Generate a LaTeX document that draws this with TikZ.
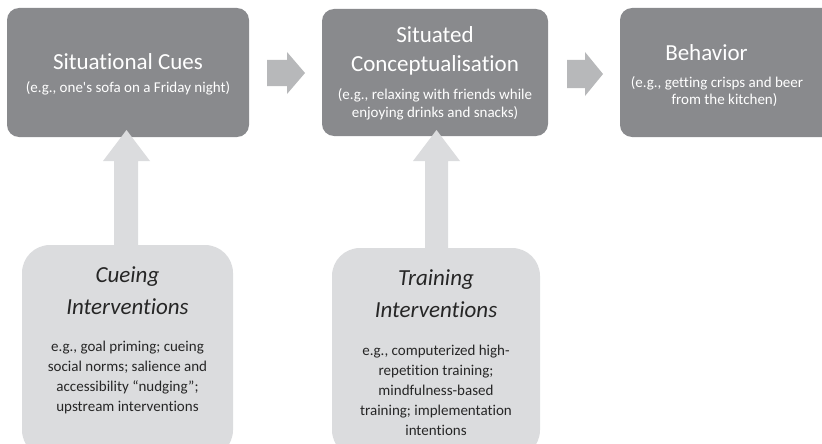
\documentclass[tikz,border=0pt]{standalone}
\usepackage{fontspec}
\setmainfont{Carlito}[Ligatures={NoCommon}]
\begin{document}
\begin{tikzpicture}[x=1pt,y=-1pt,
  darkbox/.style={fill=boxdark, rounded corners=12pt, draw=none},
  lightbox/.style={fill=boxlight, rounded corners=28pt, draw=none},
  hdark/.style={text=white, font=\fontsize{23}{29}\selectfont, align=center, inner sep=0pt},
  sdark/.style={text=white, font=\fontsize{15}{18}\selectfont, align=center, inner sep=0pt},
  hlight/.style={text=txtdark, font=\itshape\fontsize{23}{32}\selectfont, align=center, inner sep=0pt},
  slight/.style={text=txtdark, font=\fontsize{15}{20}\selectfont, align=center, inner sep=0pt},
  rarrow/.style={fill=arrowmid},
  uarrow/.style={fill=boxlight}]
\definecolor{boxdark}{HTML}{898A8D}
\definecolor{boxlight}{HTML}{DBDCDE}
\definecolor{arrowmid}{HTML}{B7B8BA}
\definecolor{txtdark}{HTML}{262626}
\useasboundingbox (0,0) rectangle (822,444);
% top boxes
\path[darkbox] (7,8) rectangle (249,137);
\path[darkbox] (322,9) rectangle (548,136);
\path[darkbox] (620,8) rectangle (850,137);
\node[hdark] (t1) at (128,62) {Situational Cues};
\node[sdark] (s1) at (128,88) {(e.g., one\textquotesingle s sofa on a Friday night)};
\node[hdark] (t2) at (435,50.5) {Situated\\Conceptualisation};
\node[sdark] (s2) at (435,104) {(e.g., relaxing with friends while\\enjoying drinks and snacks)};
\node[hdark] (t3) at (706.5,53) {Behavior};
\node[sdark] (s3a) at (717,83) {(e.g., getting crisps and beer};
\node[sdark] (s3b) at (724.5,100) {from the kitchen)};
% right arrows
\path[rarrow] (267,60) -- (287,60) -- (287,52) -- (305,73) -- (287,94) -- (287,86) -- (267,86) -- cycle;
\path[rarrow] (567,60) -- (585,60) -- (585,52) -- (603,74) -- (585,96) -- (585,88) -- (567,88) -- cycle;
% up arrows
\path[uarrow] (114,246) -- (114,161) -- (103,161) -- (126.5,130) -- (150,161) -- (138,161) -- (138,246) -- cycle;
\path[uarrow] (425,249) -- (425,161) -- (413,161) -- (436.5,130) -- (460,161) -- (448,161) -- (448,249) -- cycle;
% bottom boxes
\path[lightbox] (22,245) rectangle (233,458);
\path[lightbox] (332,248) rectangle (540,458);
\node[hlight] (c1) at (127.5,291) {Cueing\\Interventions};
\node[slight] (c2) at (127.5,377) {e.g., goal priming; cueing\\social norms; salience and\\accessibility \textquotedblleft nudging\textquotedblright;\\upstream interventions};
\node[hlight] (d1) at (436,294) {Training\\Interventions};
\node[slight] (d2) at (436,390) {e.g., computerized high-\\repetition training;\\mindfulness-based\\training; implementation\\intentions};
\end{tikzpicture}
\end{document}
